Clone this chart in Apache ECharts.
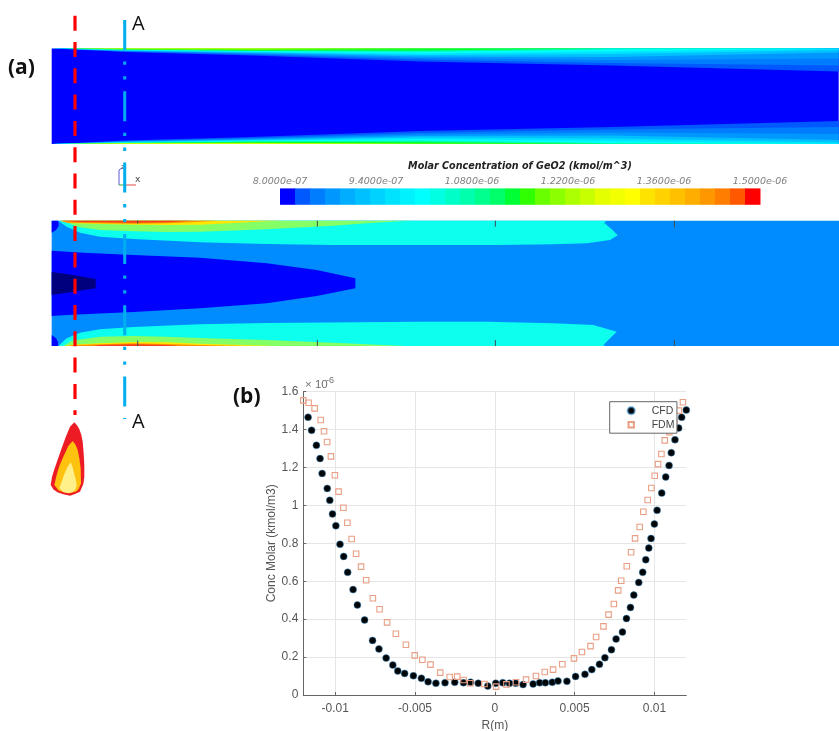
<!DOCTYPE html>
<html><head><meta charset="utf-8">
<style>html,body{margin:0;padding:0;background:#fff}#c{width:839px;height:731px;filter:blur(0.45px)}</style>
<script src="https://cdn.jsdelivr.net/npm/echarts@6/dist/echarts.min.js"></script>
</head><body><div id="c"></div>
<script>
// Line profile at section A-A: R (m), concentration (x 1e-6 kmol/m3)
const cfdR=[-0.0117,-0.01148,-0.01118,-0.01095,-0.01082,-0.0105,-0.01034,-0.01017,-0.00996,-0.0097,-0.00947,-0.00922,-0.00888,-0.00861,-0.00816,-0.00766,-0.00726,-0.00681,-0.00639,-0.00608,-0.00565,-0.0051,-0.0046,-0.00418,-0.00369,-0.00312,-0.00251,-0.00196,-0.00152,-0.00104,-0.00044,0.00006,0.0005,0.00092,0.00131,0.00177,0.0024,0.00281,0.00317,0.0036,0.00396,0.00452,0.00506,0.00565,0.00608,0.00656,0.0069,0.00731,0.0076,0.008,0.00825,0.0085,0.00871,0.00902,0.00927,0.00946,0.00965,0.00979,0.01,0.01017,0.01046,0.01071,0.01092,0.01106,0.01129,0.01152,0.01171,0.012];
const cfdC=[1.465,1.396,1.317,1.247,1.169,1.09,1.027,0.955,0.893,0.795,0.731,0.647,0.556,0.475,0.396,0.288,0.243,0.195,0.158,0.127,0.114,0.102,0.088,0.07,0.062,0.065,0.067,0.065,0.067,0.062,0.047,0.062,0.065,0.062,0.062,0.055,0.058,0.065,0.065,0.067,0.074,0.072,0.098,0.109,0.134,0.162,0.197,0.239,0.295,0.332,0.403,0.462,0.527,0.594,0.647,0.714,0.775,0.826,0.902,0.974,1.065,1.15,1.211,1.278,1.347,1.408,1.465,1.503];
const fdmR=[-0.012,-0.01167,-0.01129,-0.01091,-0.0107,-0.01051,-0.01027,-0.01002,-0.00979,-0.00949,-0.00924,-0.00897,-0.00869,-0.00838,-0.00806,-0.00764,-0.00722,-0.00675,-0.0062,-0.00557,-0.00502,-0.00454,-0.00403,-0.00342,-0.00283,-0.00236,-0.00196,-0.00154,-0.00065,0.00008,0.00073,0.00133,0.00196,0.00258,0.00313,0.00365,0.00423,0.00496,0.00546,0.006,0.00635,0.00681,0.00713,0.00746,0.00773,0.00792,0.00827,0.00854,0.00879,0.00908,0.00931,0.00958,0.00981,0.01002,0.01023,0.01044,0.01065,0.01094,0.01125,0.01154,0.01179];
const fdmC=[1.554,1.542,1.512,1.451,1.391,1.335,1.259,1.159,1.073,0.988,0.909,0.823,0.745,0.677,0.605,0.51,0.452,0.383,0.323,0.265,0.209,0.186,0.16,0.118,0.095,0.097,0.079,0.062,0.058,0.044,0.056,0.067,0.081,0.1,0.121,0.134,0.162,0.193,0.227,0.258,0.306,0.362,0.424,0.48,0.552,0.603,0.679,0.753,0.826,0.886,0.967,1.029,1.092,1.157,1.218,1.271,1.343,1.387,1.44,1.5,1.544];
const xTickValues=[-0.01,-0.005,0,0.005,0.01];
const yTickStep=0.2;
const seriesNames=['CFD','FDM'];

// Colour bar
const colorSteps=['#0000ff','#0058ff','#007dff','#0098ff','#00adff','#00c0ff','#00d2ff','#00e3ff','#00f2ff','#00ffff','#00ffe3','#00ffc8','#00ffac','#00ff8c','#00ff69','#00ff33','#2fff00','#69ff00','#8cff00','#acff00','#c8ff00','#e3ff00','#f2ff00','#ffff00','#ffe300','#ffd200','#ffc000','#ffad00','#ff9800','#ff7d00','#ff5800','#ff0000'];
const colorTicks=['8.0000e-07','9.4000e-07','1.0800e-06','1.2200e-06','1.3600e-06','1.5000e-06'];

// Upper contour field: wall depth of each concentration level along the axis
const axial=[0,13,73,200,368,560,787];
const wallLevels=[
 ['#0058ff',[0,.5,3.5,7,13,17,23]],
 ['#007dff',[0,.4,3,6,11,14.5,17]],
 ['#0098ff',[0,.3,2.6,5.2,9.5,11.5,10]],
 ['#00c0ff',[0,.3,2.2,4.5,8,8.5,4]],
 ['#00e3ff',[0,.2,1.9,3.8,6.5,5.5,1.5]],
 ['#00ffff',[0,.2,1.6,3.2,5,3,0]],
 ['#00ffac',[0,.1,1.3,2.6,3.5,1,0]],
 ['#00ff33',[0,.1,1,2.2,2,0,0]],
 ['#8cff00',[0,.05,.7,1.3,.5,0,0]],
 ['#ffff00',[0,0,.4,.5,0,0,0]]
];

// Lower contour field: flat-coloured iso-regions (axial position, radial position)
const lowerRegions=[
 ['#0000ff',[[155,32],[175,32],[176,48],[168,60],[155,68]]],
 ['#0000ff',[[155,375],[168,385],[174,397],[174,408],[155,408]]],
 ['#0dffee',[[175,32],[200,50],[240,68],[300,80],[400,87],[600,97],[800,102],[1000,105],[1260,105],[1486,105],[1660,103],[1760,100],[1830,90],[1853,76],[1835,58],[1812,38],[1820,32]]],
 ['#0dffee',[[175,408],[200,385],[240,368],[300,358],[400,351],[600,343],[800,339],[1260,335],[1460,335],[1660,340],[1780,345],[1850,365],[1830,385],[1810,405],[1815,408]]],
 ['#85ff66',[[190,32],[230,50],[300,60],[400,64],[500,66],[600,65],[800,58],[1000,47],[1100,40],[1200,34],[1240,32]]],
 ['#85ff66',[[190,408],[215,392],[300,380],[400,378],[500,380],[600,384],[800,390],[1000,398],[1200,407],[1210,408]]],
 ['#ffe600',[[180,32],[220,40],[400,44],[500,45],[600,44],[700,39],[800,34],[850,32]]],
 ['#ffe600',[[195,408],[215,404],[300,400],[400,396],[500,397],[600,401],[700,404],[800,407],[820,408]]],
 ['#ff9000',[[180,32],[200,38],[400,41],[500,40],[590,36],[640,33],[650,32]]],
 ['#ff9000',[[200,408],[220,405],[400,400],[500,402],[600,405],[700,407],[720,408]]],
 ['#f5401a',[[185,32],[240,36],[400,38],[500,37],[560,33],[580,32]]],
 ['#f5401a',[[280,408],[300,405],[400,403],[500,405],[540,408]]],
 ['#0000ff',[[155,122],[250,128],[400,135],[600,143],[800,160],[950,180],[1066,205],[1066,235],[950,258],[800,280],[600,295],[400,306],[200,315],[155,318]]],
 ['#00007f',[[155,186],[220,195],[287,207],[287,235],[220,245],[155,255]]]
];
const lowerTicks=[[413,32,40],[952,32,50],[1486,32,50],[2023,32,52],[413,392,408],[952,390,408],[1486,390,408],[2023,390,408]];

const upperPolys=[['#0000ff',[[0,0],[787,0],[787,95.5],[0,95.5]]]];
wallLevels.forEach(([col,d])=>{
  upperPolys.push([col,axial.map((x,i)=>[x,d[i]]).concat([[787,0],[0,0]])]);
  upperPolys.push([col,axial.map((x,i)=>[x,95.5-d[i]]).concat([[787,95.5],[0,95.5]])]);
});
const lowerPolys=[['#008cff',[[155,32],[2517,32],[2517,408],[155,408]]]].concat(lowerRegions);

function polySeries(list,ax){
  return {type:'custom',xAxisIndex:ax,yAxisIndex:ax,silent:true,animation:false,
    data:list.map((_,i)=>[i]),
    renderItem:(p,api)=>{const e=list[api.value(0)];
      return {type:'polygon',shape:{points:e[1].map(q=>api.coord(q))},style:{fill:e[0]}};}};
}
function hidden(min,max,inv){return {type:'value',show:false,min,max,inverse:!!inv,splitLine:{show:false}};}
const LBL='"Liberation Sans",Arial,sans-serif', OS='"Open Sans",sans-serif', GR='#565656';

const flameOuter=[[163,187],[172,197],[178,208],[184,225],[188,245],[191,280],[193,315],[193,350],[190,372],[180,395],[165,402],[150,407],[130,403],[112,397],[100,388],[92,375],[96,350],[103,328],[125,265],[137,232],[150,200]];
const flameMid=[[158,243],[167,255],[173,270],[178,295],[182,325],[183,370],[177,385],[170,394],[150,400],[130,397],[115,391],[103,375],[110,345],[118,318],[130,290],[145,258]];
const flameIn=[[152,307],[158,322],[163,342],[168,362],[170,378],[165,390],[157,396],[145,400],[130,396],[118,384],[125,365],[132,345],[142,322]];
const fl=a=>a.map(p=>[20+p[0]/3,360+p[1]/3]);

const graphic=[
 {type:'line',z:10,shape:{x1:75,y1:15.7,x2:75,y2:415},style:{stroke:'#ff0000',lineWidth:3.2,lineDash:[15,11.3]}},
 {type:'line',z:10,shape:{x1:124.7,y1:20,x2:124.7,y2:419},style:{stroke:'#00aeef',lineWidth:3,lineDash:[30,11.5,3.3,11.5,3.3,11.7]}},
 {type:'polygon',z:10,shape:{points:fl(flameOuter)},style:{fill:'#ed1c24'}},
 {type:'polygon',z:10,shape:{points:fl(flameMid)},style:{fill:'#ffc20e'}},
 {type:'polygon',z:10,shape:{points:fl(flameIn)},style:{fill:'#fff08a'}},
 {type:'text',z:10,style:{x:132,y:24,text:'A',fill:'#111',font:'20px '+OS,textVerticalAlign:'middle'}},
 {type:'text',z:10,style:{x:132,y:422,text:'A',fill:'#111',font:'20px '+OS,textVerticalAlign:'middle'}},
 {type:'text',z:10,style:{x:8,y:68,text:'(a)',fill:'#111',font:'bold 21px '+OS,textVerticalAlign:'middle'}},
 {type:'text',z:10,style:{x:233,y:397,text:'(b)',fill:'#111',font:'bold 21px '+OS,textVerticalAlign:'middle'}},
 {type:'text',z:10,style:{x:305,y:385,text:'× 10',fill:'#707070',font:'11.5px '+LBL,textVerticalAlign:'middle'}},
 {type:'text',z:10,style:{x:326,y:381,text:'-6',fill:'#707070',font:'9px '+LBL,textVerticalAlign:'middle'}},
 {type:'line',z:9,shape:{x1:119,y1:170,x2:119,y2:185},style:{stroke:'#5a5ad8',lineWidth:1}},
 {type:'line',z:9,shape:{x1:119,y1:170,x2:122,y2:168},style:{stroke:'#5a5ad8',lineWidth:1}},
 {type:'line',z:9,shape:{x1:119,y1:185,x2:125,y2:185},style:{stroke:'#2fae3a',lineWidth:1}},
 {type:'line',z:9,shape:{x1:125,y1:185,x2:136,y2:185},style:{stroke:'#e24a4a',lineWidth:1}},
 {type:'text',z:9,style:{x:135,y:180,text:'x',fill:'#444',font:'9px "DejaVu Sans"',textVerticalAlign:'middle'}},
 {type:'text',z:9,style:{x:121,y:167,text:'z',fill:'#444',font:'7px "DejaVu Sans"',textVerticalAlign:'middle'}}
];

const freeGrid={containLabel:false,outerBoundsMode:'none'};
const option={
 animation:false,
 backgroundColor:'#fff',
 graphic,
 grid:[
  Object.assign({left:303.3,top:391.7,width:383,height:303.3},freeGrid),
  Object.assign({left:51.7,top:48.5,width:787.3,height:95.5},freeGrid),
  Object.assign({left:51.7,top:220.7,width:787.3,height:125.3},freeGrid),
  Object.assign({left:280,top:188.4,width:480,height:16.4},freeGrid)
 ],
 xAxis:[
  {type:'value',gridIndex:0,min:-0.012,max:0.012,
   name:'R(m)',nameLocation:'middle',nameGap:25,nameTextStyle:{color:GR,fontSize:12,fontFamily:LBL},
   axisLine:{onZero:false,lineStyle:{color:'#666'}},
   axisTick:{inside:true,length:3,lineStyle:{color:'#666'},customValues:xTickValues},
   axisLabel:{color:GR,fontSize:12,fontFamily:LBL,margin:8,customValues:xTickValues},
   splitLine:{show:true,lineStyle:{color:'#e6e6e6'}}},
  Object.assign(hidden(0,787.3),{gridIndex:1}),
  Object.assign(hidden(155,2517),{gridIndex:2}),
  {type:'value',gridIndex:3,min:0,max:5,interval:1,position:'top',
   name:'Molar Concentration of GeO2 (kmol/m^3)',nameLocation:'middle',nameGap:17,
   nameTextStyle:{color:'#222',fontSize:9.6,fontStyle:'italic',fontWeight:'bold',fontFamily:'"DejaVu Sans"'},
   axisLine:{show:false},axisTick:{show:false},splitLine:{show:false},
   axisLabel:{color:'#808080',fontSize:9.5,fontStyle:'italic',fontFamily:'"DejaVu Sans"',margin:2,
     showMinLabel:true,showMaxLabel:true,hideOverlap:false,formatter:v=>colorTicks[Math.round(v)]}}
 ],
 yAxis:[
  {type:'value',gridIndex:0,min:0,max:1.6,interval:yTickStep,
   name:'Conc Molar (kmol/m3)',nameLocation:'middle',nameGap:24,nameTextStyle:{color:GR,fontSize:12,fontFamily:LBL},
   axisLine:{show:true,onZero:false,lineStyle:{color:'#666'}},
   axisTick:{show:true,inside:true,length:3,lineStyle:{color:'#666'}},
   axisLabel:{color:GR,fontSize:12,fontFamily:LBL,margin:5},
   splitLine:{show:true,lineStyle:{color:'#e6e6e6'}}},
  Object.assign(hidden(0,95.5,true),{gridIndex:1}),
  Object.assign(hidden(32,408,true),{gridIndex:2}),
  Object.assign(hidden(0,1),{gridIndex:3})
 ],
 legend:{left:609.7,top:401.7,orient:'vertical',padding:[3.5,2.5,3,16],itemGap:3,itemWidth:31,itemHeight:9,
  selectedMode:false,backgroundColor:'#fff',borderColor:'#666',borderWidth:1,borderRadius:0,
  textStyle:{color:'#444',fontSize:10.5,fontFamily:LBL},
  data:[
   {name:seriesNames[0],icon:'path://M0 0L0 0M10 10L10 10M5 1A4 4 0 1 0 5.001 1Z'},
   {name:seriesNames[1],icon:'path://M0 0L0 0M10 10L10 10M2 2H8V8H2Z'}
  ]},
 series:[
  polySeries(upperPolys,1),
  polySeries(lowerPolys,2),
  {type:'custom',xAxisIndex:2,yAxisIndex:2,silent:true,animation:false,
   data:lowerTicks.map((_,i)=>[i]),
   renderItem:(p,api)=>{const t=lowerTicks[api.value(0)];const a=api.coord([t[0],t[1]]),b=api.coord([t[0],t[2]]);
     return {type:'line',shape:{x1:a[0],y1:a[1],x2:b[0],y2:b[1]},style:{stroke:'#3d4a55',lineWidth:1}};}},
  {type:'custom',xAxisIndex:3,yAxisIndex:3,silent:true,animation:false,
   data:colorSteps.map((_,i)=>[i]),
   renderItem:(p,api)=>{const i=api.value(0),n=colorSteps.length;
     const a=api.coord([i*5/n,1]),b=api.coord([(i+1)*5/n,0]);
     return {type:'rect',shape:{x:a[0],y:a[1],width:b[0]-a[0]+0.5,height:b[1]-a[1]},style:{fill:colorSteps[i]}};}},
  {name:seriesNames[0],type:'scatter',xAxisIndex:0,yAxisIndex:0,symbol:'circle',symbolSize:7,animation:false,
   itemStyle:{color:'#000508',opacity:1,borderColor:'rgba(70,150,205,.6)',borderWidth:0.8},
   data:cfdR.map((r,i)=>[r,cfdC[i]])},
  {name:seriesNames[1],type:'scatter',xAxisIndex:0,yAxisIndex:0,symbol:'rect',symbolSize:5.5,animation:false,
   itemStyle:{color:'rgba(255,255,255,0)',opacity:1,borderColor:'#e99f84',borderWidth:1.1},
   data:fdmR.map((r,i)=>[r,fdmC[i]])}
 ]
};
echarts.init(document.getElementById('c'),null,{renderer:'canvas'}).setOption(option);
</script></body></html>
